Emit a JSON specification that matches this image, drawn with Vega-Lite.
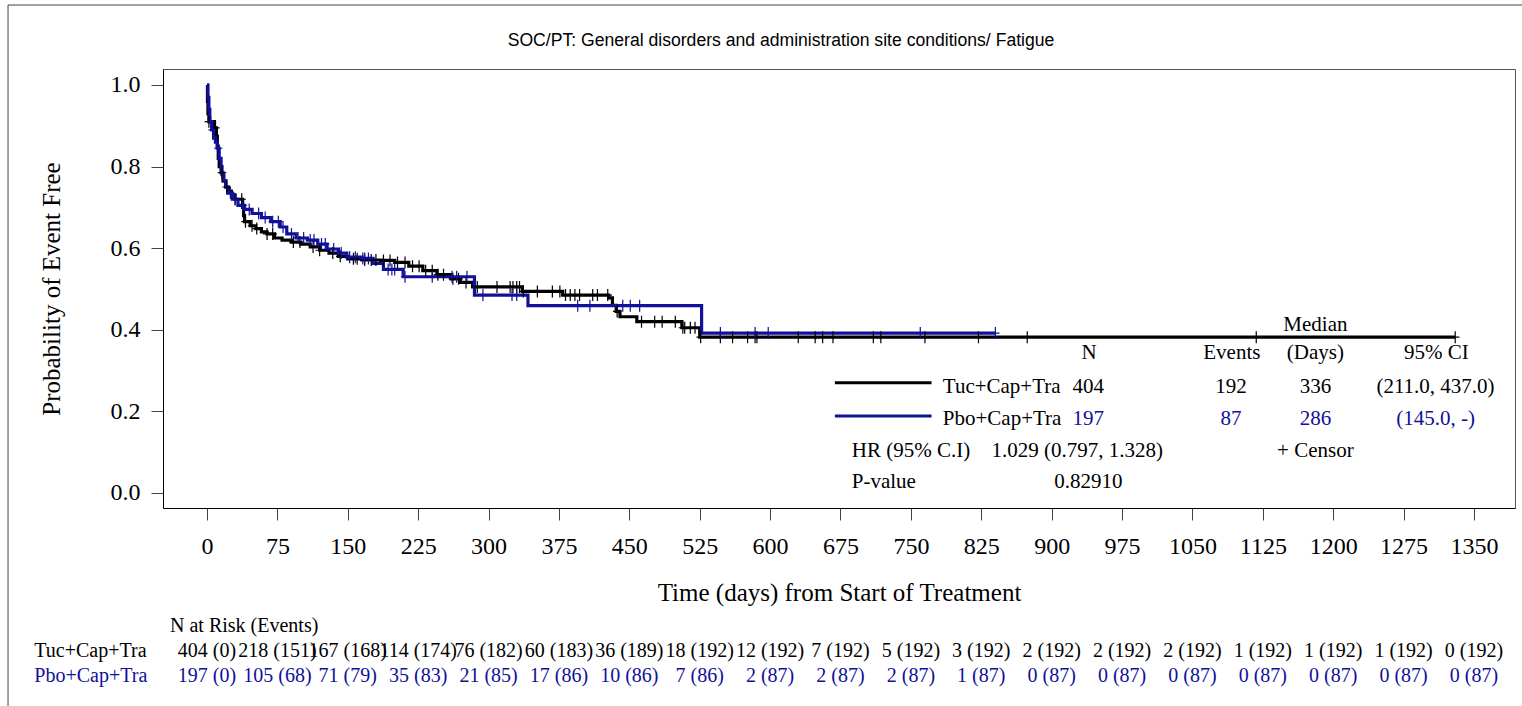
{
  "$schema": "https://vega.github.io/schema/vega-lite/v6.json",
  "width": 1352,
  "height": 439,
  "autosize": {"type": "none"},
  "padding": {"left": 163, "top": 69, "right": 7, "bottom": 198},
  "background": "white",
  "config": {
    "view": {"stroke": "#555", "strokeWidth": 1},
    "font": "Liberation Serif",
    "axis": {"grid": false, "labelFont": "Liberation Serif", "titleFont": "Liberation Serif", "labelColor": "#000", "titleColor": "#000", "titleFontWeight": "normal", "domainColor": "#000", "domainWidth": 1, "tickColor": "#444", "tickWidth": 1, "tickSize": 12, "labelFontSize": 24, "titleFontSize": 25},
    "axisX": {"labelPadding": 14, "titlePadding": 22, "labelFlush": false, "labelOverlap": false},
    "axisY": {"labelPadding": 11, "titlePadding": 46},
    "text": {"font": "Liberation Serif", "baseline": "alphabetic"}
  },
  "datasets": {
    "km": [
      {"arm": "Tuc+Cap+Tra", "day": 0, "surv": 1.0},
      {"arm": "Tuc+Cap+Tra", "day": 0.5, "surv": 0.96},
      {"arm": "Tuc+Cap+Tra", "day": 1, "surv": 0.93},
      {"arm": "Tuc+Cap+Tra", "day": 2, "surv": 0.91},
      {"arm": "Tuc+Cap+Tra", "day": 8, "surv": 0.895},
      {"arm": "Tuc+Cap+Tra", "day": 10, "surv": 0.875},
      {"arm": "Tuc+Cap+Tra", "day": 11, "surv": 0.85},
      {"arm": "Tuc+Cap+Tra", "day": 12, "surv": 0.82},
      {"arm": "Tuc+Cap+Tra", "day": 13, "surv": 0.80},
      {"arm": "Tuc+Cap+Tra", "day": 15, "surv": 0.785},
      {"arm": "Tuc+Cap+Tra", "day": 17, "surv": 0.765},
      {"arm": "Tuc+Cap+Tra", "day": 20, "surv": 0.75},
      {"arm": "Tuc+Cap+Tra", "day": 23, "surv": 0.74},
      {"arm": "Tuc+Cap+Tra", "day": 26, "surv": 0.73},
      {"arm": "Tuc+Cap+Tra", "day": 30, "surv": 0.72},
      {"arm": "Tuc+Cap+Tra", "day": 38, "surv": 0.70},
      {"arm": "Tuc+Cap+Tra", "day": 39, "surv": 0.68},
      {"arm": "Tuc+Cap+Tra", "day": 40, "surv": 0.665},
      {"arm": "Tuc+Cap+Tra", "day": 46, "surv": 0.655},
      {"arm": "Tuc+Cap+Tra", "day": 52, "surv": 0.648},
      {"arm": "Tuc+Cap+Tra", "day": 58, "surv": 0.64},
      {"arm": "Tuc+Cap+Tra", "day": 64, "surv": 0.635},
      {"arm": "Tuc+Cap+Tra", "day": 72, "surv": 0.625},
      {"arm": "Tuc+Cap+Tra", "day": 80, "surv": 0.62},
      {"arm": "Tuc+Cap+Tra", "day": 90, "surv": 0.615},
      {"arm": "Tuc+Cap+Tra", "day": 100, "surv": 0.61},
      {"arm": "Tuc+Cap+Tra", "day": 110, "surv": 0.603},
      {"arm": "Tuc+Cap+Tra", "day": 120, "surv": 0.595},
      {"arm": "Tuc+Cap+Tra", "day": 130, "surv": 0.588},
      {"arm": "Tuc+Cap+Tra", "day": 140, "surv": 0.58},
      {"arm": "Tuc+Cap+Tra", "day": 150, "surv": 0.574},
      {"arm": "Tuc+Cap+Tra", "day": 165, "surv": 0.571},
      {"arm": "Tuc+Cap+Tra", "day": 185, "surv": 0.57},
      {"arm": "Tuc+Cap+Tra", "day": 200, "surv": 0.565},
      {"arm": "Tuc+Cap+Tra", "day": 215, "surv": 0.556},
      {"arm": "Tuc+Cap+Tra", "day": 230, "surv": 0.545},
      {"arm": "Tuc+Cap+Tra", "day": 245, "surv": 0.535},
      {"arm": "Tuc+Cap+Tra", "day": 260, "surv": 0.525},
      {"arm": "Tuc+Cap+Tra", "day": 270, "surv": 0.516},
      {"arm": "Tuc+Cap+Tra", "day": 283, "surv": 0.505},
      {"arm": "Tuc+Cap+Tra", "day": 336, "surv": 0.494},
      {"arm": "Tuc+Cap+Tra", "day": 379, "surv": 0.485},
      {"arm": "Tuc+Cap+Tra", "day": 428, "surv": 0.478},
      {"arm": "Tuc+Cap+Tra", "day": 432, "surv": 0.46},
      {"arm": "Tuc+Cap+Tra", "day": 436, "surv": 0.445},
      {"arm": "Tuc+Cap+Tra", "day": 440, "surv": 0.432},
      {"arm": "Tuc+Cap+Tra", "day": 458, "surv": 0.42},
      {"arm": "Tuc+Cap+Tra", "day": 506, "surv": 0.405},
      {"arm": "Tuc+Cap+Tra", "day": 525, "surv": 0.382},
      {"arm": "Tuc+Cap+Tra", "day": 1330, "surv": 0.382},
      {"arm": "Pbo+Cap+Tra", "day": 0, "surv": 1.0},
      {"arm": "Pbo+Cap+Tra", "day": 1, "surv": 0.97},
      {"arm": "Pbo+Cap+Tra", "day": 2, "surv": 0.94},
      {"arm": "Pbo+Cap+Tra", "day": 3, "surv": 0.91},
      {"arm": "Pbo+Cap+Tra", "day": 5, "surv": 0.89},
      {"arm": "Pbo+Cap+Tra", "day": 7, "surv": 0.87},
      {"arm": "Pbo+Cap+Tra", "day": 9, "surv": 0.86},
      {"arm": "Pbo+Cap+Tra", "day": 11, "surv": 0.845},
      {"arm": "Pbo+Cap+Tra", "day": 13, "surv": 0.82},
      {"arm": "Pbo+Cap+Tra", "day": 15, "surv": 0.80},
      {"arm": "Pbo+Cap+Tra", "day": 16, "surv": 0.78},
      {"arm": "Pbo+Cap+Tra", "day": 18, "surv": 0.765},
      {"arm": "Pbo+Cap+Tra", "day": 20, "surv": 0.75},
      {"arm": "Pbo+Cap+Tra", "day": 22, "surv": 0.735},
      {"arm": "Pbo+Cap+Tra", "day": 27, "surv": 0.72},
      {"arm": "Pbo+Cap+Tra", "day": 33, "surv": 0.705},
      {"arm": "Pbo+Cap+Tra", "day": 40, "surv": 0.695},
      {"arm": "Pbo+Cap+Tra", "day": 48, "surv": 0.685},
      {"arm": "Pbo+Cap+Tra", "day": 58, "surv": 0.675},
      {"arm": "Pbo+Cap+Tra", "day": 68, "surv": 0.665},
      {"arm": "Pbo+Cap+Tra", "day": 78, "surv": 0.652},
      {"arm": "Pbo+Cap+Tra", "day": 85, "surv": 0.635},
      {"arm": "Pbo+Cap+Tra", "day": 95, "surv": 0.625},
      {"arm": "Pbo+Cap+Tra", "day": 107, "surv": 0.62},
      {"arm": "Pbo+Cap+Tra", "day": 118, "surv": 0.61},
      {"arm": "Pbo+Cap+Tra", "day": 128, "surv": 0.598},
      {"arm": "Pbo+Cap+Tra", "day": 140, "surv": 0.588},
      {"arm": "Pbo+Cap+Tra", "day": 149, "surv": 0.578},
      {"arm": "Pbo+Cap+Tra", "day": 165, "surv": 0.575},
      {"arm": "Pbo+Cap+Tra", "day": 177, "surv": 0.563},
      {"arm": "Pbo+Cap+Tra", "day": 188, "surv": 0.548},
      {"arm": "Pbo+Cap+Tra", "day": 209, "surv": 0.53},
      {"arm": "Pbo+Cap+Tra", "day": 285, "surv": 0.485},
      {"arm": "Pbo+Cap+Tra", "day": 342, "surv": 0.459},
      {"arm": "Pbo+Cap+Tra", "day": 527, "surv": 0.392},
      {"arm": "Pbo+Cap+Tra", "day": 840, "surv": 0.392}
    ],
    "cens": [
      {"arm": "Tuc+Cap+Tra", "day": 2, "surv": 0.91},
      {"arm": "Tuc+Cap+Tra", "day": 9, "surv": 0.895},
      {"arm": "Tuc+Cap+Tra", "day": 16, "surv": 0.785},
      {"arm": "Tuc+Cap+Tra", "day": 21, "surv": 0.75},
      {"arm": "Tuc+Cap+Tra", "day": 30, "surv": 0.72},
      {"arm": "Tuc+Cap+Tra", "day": 37, "surv": 0.72},
      {"arm": "Tuc+Cap+Tra", "day": 41, "surv": 0.665},
      {"arm": "Tuc+Cap+Tra", "day": 48, "surv": 0.655},
      {"arm": "Tuc+Cap+Tra", "day": 53, "surv": 0.648},
      {"arm": "Tuc+Cap+Tra", "day": 64, "surv": 0.635},
      {"arm": "Tuc+Cap+Tra", "day": 70, "surv": 0.635},
      {"arm": "Tuc+Cap+Tra", "day": 92, "surv": 0.615},
      {"arm": "Tuc+Cap+Tra", "day": 99, "surv": 0.615},
      {"arm": "Tuc+Cap+Tra", "day": 113, "surv": 0.603},
      {"arm": "Tuc+Cap+Tra", "day": 120, "surv": 0.595},
      {"arm": "Tuc+Cap+Tra", "day": 134, "surv": 0.588},
      {"arm": "Tuc+Cap+Tra", "day": 142, "surv": 0.58},
      {"arm": "Tuc+Cap+Tra", "day": 156, "surv": 0.574},
      {"arm": "Tuc+Cap+Tra", "day": 160, "surv": 0.574},
      {"arm": "Tuc+Cap+Tra", "day": 168, "surv": 0.571},
      {"arm": "Tuc+Cap+Tra", "day": 175, "surv": 0.571},
      {"arm": "Tuc+Cap+Tra", "day": 180, "surv": 0.571},
      {"arm": "Tuc+Cap+Tra", "day": 188, "surv": 0.57},
      {"arm": "Tuc+Cap+Tra", "day": 195, "surv": 0.57},
      {"arm": "Tuc+Cap+Tra", "day": 203, "surv": 0.565},
      {"arm": "Tuc+Cap+Tra", "day": 211, "surv": 0.565},
      {"arm": "Tuc+Cap+Tra", "day": 219, "surv": 0.556},
      {"arm": "Tuc+Cap+Tra", "day": 226, "surv": 0.556},
      {"arm": "Tuc+Cap+Tra", "day": 233, "surv": 0.545},
      {"arm": "Tuc+Cap+Tra", "day": 240, "surv": 0.545},
      {"arm": "Tuc+Cap+Tra", "day": 246, "surv": 0.535},
      {"arm": "Tuc+Cap+Tra", "day": 252, "surv": 0.535},
      {"arm": "Tuc+Cap+Tra", "day": 262, "surv": 0.525},
      {"arm": "Tuc+Cap+Tra", "day": 268, "surv": 0.525},
      {"arm": "Tuc+Cap+Tra", "day": 276, "surv": 0.516},
      {"arm": "Tuc+Cap+Tra", "day": 288, "surv": 0.505},
      {"arm": "Tuc+Cap+Tra", "day": 309, "surv": 0.505},
      {"arm": "Tuc+Cap+Tra", "day": 323, "surv": 0.505},
      {"arm": "Tuc+Cap+Tra", "day": 326, "surv": 0.505},
      {"arm": "Tuc+Cap+Tra", "day": 330, "surv": 0.505},
      {"arm": "Tuc+Cap+Tra", "day": 333, "surv": 0.505},
      {"arm": "Tuc+Cap+Tra", "day": 337, "surv": 0.494},
      {"arm": "Tuc+Cap+Tra", "day": 352, "surv": 0.494},
      {"arm": "Tuc+Cap+Tra", "day": 368, "surv": 0.494},
      {"arm": "Tuc+Cap+Tra", "day": 376, "surv": 0.494},
      {"arm": "Tuc+Cap+Tra", "day": 382, "surv": 0.485},
      {"arm": "Tuc+Cap+Tra", "day": 387, "surv": 0.485},
      {"arm": "Tuc+Cap+Tra", "day": 392, "surv": 0.485},
      {"arm": "Tuc+Cap+Tra", "day": 397, "surv": 0.485},
      {"arm": "Tuc+Cap+Tra", "day": 411, "surv": 0.485},
      {"arm": "Tuc+Cap+Tra", "day": 416, "surv": 0.485},
      {"arm": "Tuc+Cap+Tra", "day": 427, "surv": 0.485},
      {"arm": "Tuc+Cap+Tra", "day": 437, "surv": 0.445},
      {"arm": "Tuc+Cap+Tra", "day": 463, "surv": 0.42},
      {"arm": "Tuc+Cap+Tra", "day": 477, "surv": 0.42},
      {"arm": "Tuc+Cap+Tra", "day": 485, "surv": 0.42},
      {"arm": "Tuc+Cap+Tra", "day": 499, "surv": 0.42},
      {"arm": "Tuc+Cap+Tra", "day": 507, "surv": 0.405},
      {"arm": "Tuc+Cap+Tra", "day": 509, "surv": 0.405},
      {"arm": "Tuc+Cap+Tra", "day": 515, "surv": 0.405},
      {"arm": "Tuc+Cap+Tra", "day": 520, "surv": 0.405},
      {"arm": "Tuc+Cap+Tra", "day": 526, "surv": 0.382},
      {"arm": "Tuc+Cap+Tra", "day": 547, "surv": 0.382},
      {"arm": "Tuc+Cap+Tra", "day": 560, "surv": 0.382},
      {"arm": "Tuc+Cap+Tra", "day": 576, "surv": 0.382},
      {"arm": "Tuc+Cap+Tra", "day": 584, "surv": 0.382},
      {"arm": "Tuc+Cap+Tra", "day": 586, "surv": 0.382},
      {"arm": "Tuc+Cap+Tra", "day": 630, "surv": 0.382},
      {"arm": "Tuc+Cap+Tra", "day": 648, "surv": 0.382},
      {"arm": "Tuc+Cap+Tra", "day": 656, "surv": 0.382},
      {"arm": "Tuc+Cap+Tra", "day": 667, "surv": 0.382},
      {"arm": "Tuc+Cap+Tra", "day": 710, "surv": 0.382},
      {"arm": "Tuc+Cap+Tra", "day": 718, "surv": 0.382},
      {"arm": "Tuc+Cap+Tra", "day": 765, "surv": 0.382},
      {"arm": "Tuc+Cap+Tra", "day": 822, "surv": 0.382},
      {"arm": "Tuc+Cap+Tra", "day": 874, "surv": 0.382},
      {"arm": "Tuc+Cap+Tra", "day": 1118, "surv": 0.382},
      {"arm": "Tuc+Cap+Tra", "day": 1330, "surv": 0.382},
      {"arm": "Pbo+Cap+Tra", "day": 4, "surv": 0.91},
      {"arm": "Pbo+Cap+Tra", "day": 6, "surv": 0.89},
      {"arm": "Pbo+Cap+Tra", "day": 12, "surv": 0.845},
      {"arm": "Pbo+Cap+Tra", "day": 25, "surv": 0.735},
      {"arm": "Pbo+Cap+Tra", "day": 30, "surv": 0.72},
      {"arm": "Pbo+Cap+Tra", "day": 38, "surv": 0.705},
      {"arm": "Pbo+Cap+Tra", "day": 45, "surv": 0.695},
      {"arm": "Pbo+Cap+Tra", "day": 55, "surv": 0.685},
      {"arm": "Pbo+Cap+Tra", "day": 62, "surv": 0.675},
      {"arm": "Pbo+Cap+Tra", "day": 70, "surv": 0.665},
      {"arm": "Pbo+Cap+Tra", "day": 76, "surv": 0.665},
      {"arm": "Pbo+Cap+Tra", "day": 81, "surv": 0.652},
      {"arm": "Pbo+Cap+Tra", "day": 90, "surv": 0.635},
      {"arm": "Pbo+Cap+Tra", "day": 97, "surv": 0.625},
      {"arm": "Pbo+Cap+Tra", "day": 103, "surv": 0.625},
      {"arm": "Pbo+Cap+Tra", "day": 110, "surv": 0.62},
      {"arm": "Pbo+Cap+Tra", "day": 114, "surv": 0.62},
      {"arm": "Pbo+Cap+Tra", "day": 122, "surv": 0.61},
      {"arm": "Pbo+Cap+Tra", "day": 126, "surv": 0.61},
      {"arm": "Pbo+Cap+Tra", "day": 135, "surv": 0.598},
      {"arm": "Pbo+Cap+Tra", "day": 143, "surv": 0.588},
      {"arm": "Pbo+Cap+Tra", "day": 152, "surv": 0.578},
      {"arm": "Pbo+Cap+Tra", "day": 158, "surv": 0.578},
      {"arm": "Pbo+Cap+Tra", "day": 166, "surv": 0.575},
      {"arm": "Pbo+Cap+Tra", "day": 168, "surv": 0.575},
      {"arm": "Pbo+Cap+Tra", "day": 172, "surv": 0.575},
      {"arm": "Pbo+Cap+Tra", "day": 193, "surv": 0.548},
      {"arm": "Pbo+Cap+Tra", "day": 197, "surv": 0.548},
      {"arm": "Pbo+Cap+Tra", "day": 200, "surv": 0.548},
      {"arm": "Pbo+Cap+Tra", "day": 211, "surv": 0.53},
      {"arm": "Pbo+Cap+Tra", "day": 240, "surv": 0.53},
      {"arm": "Pbo+Cap+Tra", "day": 261, "surv": 0.53},
      {"arm": "Pbo+Cap+Tra", "day": 266, "surv": 0.53},
      {"arm": "Pbo+Cap+Tra", "day": 277, "surv": 0.53},
      {"arm": "Pbo+Cap+Tra", "day": 294, "surv": 0.485},
      {"arm": "Pbo+Cap+Tra", "day": 325, "surv": 0.485},
      {"arm": "Pbo+Cap+Tra", "day": 330, "surv": 0.485},
      {"arm": "Pbo+Cap+Tra", "day": 395, "surv": 0.459},
      {"arm": "Pbo+Cap+Tra", "day": 408, "surv": 0.459},
      {"arm": "Pbo+Cap+Tra", "day": 443, "surv": 0.459},
      {"arm": "Pbo+Cap+Tra", "day": 451, "surv": 0.459},
      {"arm": "Pbo+Cap+Tra", "day": 461, "surv": 0.459},
      {"arm": "Pbo+Cap+Tra", "day": 547, "surv": 0.392},
      {"arm": "Pbo+Cap+Tra", "day": 584, "surv": 0.392},
      {"arm": "Pbo+Cap+Tra", "day": 598, "surv": 0.392},
      {"arm": "Pbo+Cap+Tra", "day": 760, "surv": 0.392},
      {"arm": "Pbo+Cap+Tra", "day": 840, "surv": 0.392}
    ],
    "risk": [
      {"arm": "Tuc+Cap+Tra", "day": 0, "label": "404 (0)"},
      {"arm": "Tuc+Cap+Tra", "day": 75, "label": "218 (151)"},
      {"arm": "Tuc+Cap+Tra", "day": 150, "label": "167 (168)"},
      {"arm": "Tuc+Cap+Tra", "day": 225, "label": "114 (174)"},
      {"arm": "Tuc+Cap+Tra", "day": 300, "label": "76 (182)"},
      {"arm": "Tuc+Cap+Tra", "day": 375, "label": "60 (183)"},
      {"arm": "Tuc+Cap+Tra", "day": 450, "label": "36 (189)"},
      {"arm": "Tuc+Cap+Tra", "day": 525, "label": "18 (192)"},
      {"arm": "Tuc+Cap+Tra", "day": 600, "label": "12 (192)"},
      {"arm": "Tuc+Cap+Tra", "day": 675, "label": "7 (192)"},
      {"arm": "Tuc+Cap+Tra", "day": 750, "label": "5 (192)"},
      {"arm": "Tuc+Cap+Tra", "day": 825, "label": "3 (192)"},
      {"arm": "Tuc+Cap+Tra", "day": 900, "label": "2 (192)"},
      {"arm": "Tuc+Cap+Tra", "day": 975, "label": "2 (192)"},
      {"arm": "Tuc+Cap+Tra", "day": 1050, "label": "2 (192)"},
      {"arm": "Tuc+Cap+Tra", "day": 1125, "label": "1 (192)"},
      {"arm": "Tuc+Cap+Tra", "day": 1200, "label": "1 (192)"},
      {"arm": "Tuc+Cap+Tra", "day": 1275, "label": "1 (192)"},
      {"arm": "Tuc+Cap+Tra", "day": 1350, "label": "0 (192)"},
      {"arm": "Pbo+Cap+Tra", "day": 0, "label": "197 (0)"},
      {"arm": "Pbo+Cap+Tra", "day": 75, "label": "105 (68)"},
      {"arm": "Pbo+Cap+Tra", "day": 150, "label": "71 (79)"},
      {"arm": "Pbo+Cap+Tra", "day": 225, "label": "35 (83)"},
      {"arm": "Pbo+Cap+Tra", "day": 300, "label": "21 (85)"},
      {"arm": "Pbo+Cap+Tra", "day": 375, "label": "17 (86)"},
      {"arm": "Pbo+Cap+Tra", "day": 450, "label": "10 (86)"},
      {"arm": "Pbo+Cap+Tra", "day": 525, "label": "7 (86)"},
      {"arm": "Pbo+Cap+Tra", "day": 600, "label": "2 (87)"},
      {"arm": "Pbo+Cap+Tra", "day": 675, "label": "2 (87)"},
      {"arm": "Pbo+Cap+Tra", "day": 750, "label": "2 (87)"},
      {"arm": "Pbo+Cap+Tra", "day": 825, "label": "1 (87)"},
      {"arm": "Pbo+Cap+Tra", "day": 900, "label": "0 (87)"},
      {"arm": "Pbo+Cap+Tra", "day": 975, "label": "0 (87)"},
      {"arm": "Pbo+Cap+Tra", "day": 1050, "label": "0 (87)"},
      {"arm": "Pbo+Cap+Tra", "day": 1125, "label": "0 (87)"},
      {"arm": "Pbo+Cap+Tra", "day": 1200, "label": "0 (87)"},
      {"arm": "Pbo+Cap+Tra", "day": 1275, "label": "0 (87)"},
      {"arm": "Pbo+Cap+Tra", "day": 1350, "label": "0 (87)"}
    ],
    "summary": [
      {"arm": "Tuc+Cap+Tra", "n": "404", "events": "192", "median": "336", "ci": "(211.0, 437.0)"},
      {"arm": "Pbo+Cap+Tra", "n": "197", "events": "87", "median": "286", "ci": "(145.0, -)"}
    ],
    "stats": [
      {"title": "SOC/PT: General disorders and administration site conditions/ Fatigue", "hr": "1.029 (0.797, 1.328)", "p": "0.82910"}
    ]
  },
  "layer": [
    {
      "data": {"name": "stats"},
      "mark": {"type": "rect", "filled": false, "color": "#444", "strokeWidth": 1},
      "encoding": {
        "x": {"datum": -212, "type": "quantitative"},
        "x2": {"datum": 1406},
        "y": {"datum": 1.196, "type": "quantitative"},
        "y2": {"datum": -0.62}
      }
    },
    {
      "encoding": {
        "x": {"field": "day", "type": "quantitative", "scale": {"domain": [-46.88, 1393.7], "nice": false, "zero": false}, "axis": {"values": [0, 75, 150, 225, 300, 375, 450, 525, 600, 675, 750, 825, 900, 975, 1050, 1125, 1200, 1275, 1350], "format": "d", "title": "Time (days) from Start of Treatment"}},
        "y": {"field": "surv", "type": "quantitative", "scale": {"domain": [-0.0368, 1.0392], "nice": false, "zero": false}, "axis": {"values": [0, 0.2, 0.4, 0.6, 0.8, 1.0], "format": ".1f", "title": "Probability of Event Free"}},
        "color": {"field": "arm", "type": "nominal", "scale": {"domain": ["Tuc+Cap+Tra", "Pbo+Cap+Tra"], "range": ["#000000", "#10109A"]}, "legend": null}
      },
      "layer": [
        {"data": {"name": "km"}, "transform": [{"filter": "datum.arm === 'Tuc+Cap+Tra'"}], "mark": {"type": "line", "interpolate": "step-after", "strokeWidth": 3.2}},
        {"data": {"name": "km"}, "transform": [{"filter": "datum.arm === 'Pbo+Cap+Tra'"}], "mark": {"type": "line", "interpolate": "step-after", "strokeWidth": 3.2}},
        {"data": {"name": "cens"}, "mark": {"type": "point", "shape": "M-0.7,0L0.7,0M0,-1L0,1", "size": 144, "filled": false, "strokeWidth": 1.2, "opacity": 1}}
      ]
    },
    {
      "data": {"name": "risk"},
      "encoding": {
        "x": {"field": "day", "type": "quantitative"},
        "text": {"field": "label"},
        "color": {"field": "arm", "type": "nominal", "scale": {"domain": ["Tuc+Cap+Tra", "Pbo+Cap+Tra"], "range": ["#000000", "#10109A"]}, "legend": null}
      },
      "layer": [
        {"transform": [{"filter": "datum.arm === 'Tuc+Cap+Tra'"}], "mark": {"type": "text", "fontSize": 20, "align": "center"}, "encoding": {"y": {"datum": -0.402, "type": "quantitative"}}},
        {"transform": [{"filter": "datum.arm === 'Pbo+Cap+Tra'"}], "mark": {"type": "text", "fontSize": 20, "align": "center"}, "encoding": {"y": {"datum": -0.463, "type": "quantitative"}}}
      ]
    },
    {
      "data": {"name": "summary"},
      "encoding": {
        "text": {"field": "arm"},
        "x": {"datum": -184, "type": "quantitative"},
        "color": {"field": "arm", "type": "nominal", "scale": {"domain": ["Tuc+Cap+Tra", "Pbo+Cap+Tra"], "range": ["#000000", "#10109A"]}, "legend": null}
      },
      "layer": [
        {"transform": [{"filter": "datum.arm === 'Tuc+Cap+Tra'"}], "mark": {"type": "text", "fontSize": 20, "align": "left"}, "encoding": {"y": {"datum": -0.402, "type": "quantitative"}}},
        {"transform": [{"filter": "datum.arm === 'Pbo+Cap+Tra'"}], "mark": {"type": "text", "fontSize": 20, "align": "left"}, "encoding": {"y": {"datum": -0.463, "type": "quantitative"}}}
      ]
    },
    {
      "data": {"name": "summary"},
      "transform": [{"filter": "datum.arm === 'Tuc+Cap+Tra'"}],
      "encoding": {
        "y": {"datum": 0.245, "type": "quantitative"},
        "color": {"field": "arm", "type": "nominal", "scale": {"domain": ["Tuc+Cap+Tra", "Pbo+Cap+Tra"], "range": ["#000000", "#10109A"]}, "legend": null}
      },
      "layer": [
        {"mark": {"type": "rule", "strokeWidth": 3}, "encoding": {"x": {"datum": 669, "type": "quantitative"}, "x2": {"datum": 772}, "y": {"datum": 0.27, "type": "quantitative"}}},
        {"mark": {"type": "text", "fontSize": 21, "align": "left"}, "encoding": {"x": {"datum": 784, "type": "quantitative"}, "text": {"field": "arm"}, "color": {"value": "#000"}}},
        {"mark": {"type": "text", "fontSize": 21, "align": "center"}, "encoding": {"x": {"datum": 939, "type": "quantitative"}, "text": {"field": "n"}}},
        {"mark": {"type": "text", "fontSize": 21, "align": "center"}, "encoding": {"x": {"datum": 1091, "type": "quantitative"}, "text": {"field": "events"}}},
        {"mark": {"type": "text", "fontSize": 21, "align": "center"}, "encoding": {"x": {"datum": 1181, "type": "quantitative"}, "text": {"field": "median"}}},
        {"mark": {"type": "text", "fontSize": 21, "align": "center"}, "encoding": {"x": {"datum": 1309, "type": "quantitative"}, "text": {"field": "ci"}}}
      ]
    },
    {
      "data": {"name": "summary"},
      "transform": [{"filter": "datum.arm === 'Pbo+Cap+Tra'"}],
      "encoding": {
        "y": {"datum": 0.167, "type": "quantitative"},
        "color": {"field": "arm", "type": "nominal", "scale": {"domain": ["Tuc+Cap+Tra", "Pbo+Cap+Tra"], "range": ["#000000", "#10109A"]}, "legend": null}
      },
      "layer": [
        {"mark": {"type": "rule", "strokeWidth": 3}, "encoding": {"x": {"datum": 669, "type": "quantitative"}, "x2": {"datum": 772}, "y": {"datum": 0.189, "type": "quantitative"}}},
        {"mark": {"type": "text", "fontSize": 21, "align": "left"}, "encoding": {"x": {"datum": 784, "type": "quantitative"}, "text": {"field": "arm"}, "color": {"value": "#000"}}},
        {"mark": {"type": "text", "fontSize": 21, "align": "center"}, "encoding": {"x": {"datum": 939, "type": "quantitative"}, "text": {"field": "n"}}},
        {"mark": {"type": "text", "fontSize": 21, "align": "center"}, "encoding": {"x": {"datum": 1091, "type": "quantitative"}, "text": {"field": "events"}}},
        {"mark": {"type": "text", "fontSize": 21, "align": "center"}, "encoding": {"x": {"datum": 1181, "type": "quantitative"}, "text": {"field": "median"}}},
        {"mark": {"type": "text", "fontSize": 21, "align": "center"}, "encoding": {"x": {"datum": 1309, "type": "quantitative"}, "text": {"field": "ci"}}}
      ]
    },
    {
      "data": {"name": "stats"},
      "layer": [
        {"mark": {"type": "text", "font": "Liberation Sans", "fontSize": 17.6, "align": "center", "color": "#000"}, "encoding": {"x": {"datum": 611.6, "type": "quantitative"}, "y": {"datum": 1.0956, "type": "quantitative"}, "text": {"field": "title"}}},
        {"mark": {"type": "text", "fontSize": 21, "align": "center", "color": "#000"}, "encoding": {"x": {"datum": 1181, "type": "quantitative"}, "y": {"datum": 0.397, "type": "quantitative"}, "text": {"value": "Median"}}},
        {"mark": {"type": "text", "fontSize": 21, "align": "center", "color": "#000"}, "encoding": {"x": {"datum": 940, "type": "quantitative"}, "y": {"datum": 0.328, "type": "quantitative"}, "text": {"value": "N"}}},
        {"mark": {"type": "text", "fontSize": 21, "align": "center", "color": "#000"}, "encoding": {"x": {"datum": 1092, "type": "quantitative"}, "y": {"datum": 0.328, "type": "quantitative"}, "text": {"value": "Events"}}},
        {"mark": {"type": "text", "fontSize": 21, "align": "center", "color": "#000"}, "encoding": {"x": {"datum": 1181, "type": "quantitative"}, "y": {"datum": 0.328, "type": "quantitative"}, "text": {"value": "(Days)"}}},
        {"mark": {"type": "text", "fontSize": 21, "align": "center", "color": "#000"}, "encoding": {"x": {"datum": 1310, "type": "quantitative"}, "y": {"datum": 0.328, "type": "quantitative"}, "text": {"value": "95% CI"}}},
        {"mark": {"type": "text", "fontSize": 21, "align": "center", "color": "#000"}, "encoding": {"x": {"datum": 1181, "type": "quantitative"}, "y": {"datum": 0.088, "type": "quantitative"}, "text": {"value": "+ Censor"}}},
        {"mark": {"type": "text", "fontSize": 21, "align": "center", "color": "#000"}, "encoding": {"x": {"datum": 939, "type": "quantitative"}, "y": {"datum": 0.012, "type": "quantitative"}, "text": {"field": "p"}}},
        {"mark": {"type": "text", "fontSize": 21, "align": "left", "color": "#000"}, "encoding": {"x": {"datum": 687, "type": "quantitative"}, "y": {"datum": 0.088, "type": "quantitative"}, "text": {"value": "HR (95% C.I)"}}},
        {"mark": {"type": "text", "fontSize": 21, "align": "left", "color": "#000"}, "encoding": {"x": {"datum": 836, "type": "quantitative"}, "y": {"datum": 0.088, "type": "quantitative"}, "text": {"field": "hr"}}},
        {"mark": {"type": "text", "fontSize": 21, "align": "left", "color": "#000"}, "encoding": {"x": {"datum": 687, "type": "quantitative"}, "y": {"datum": 0.012, "type": "quantitative"}, "text": {"value": "P-value"}}},
        {"mark": {"type": "text", "fontSize": 20, "align": "left", "color": "#000"}, "encoding": {"x": {"datum": -39.4, "type": "quantitative"}, "y": {"datum": -0.341, "type": "quantitative"}, "text": {"value": "N at Risk (Events)"}}}
      ]
    }
  ]
}
